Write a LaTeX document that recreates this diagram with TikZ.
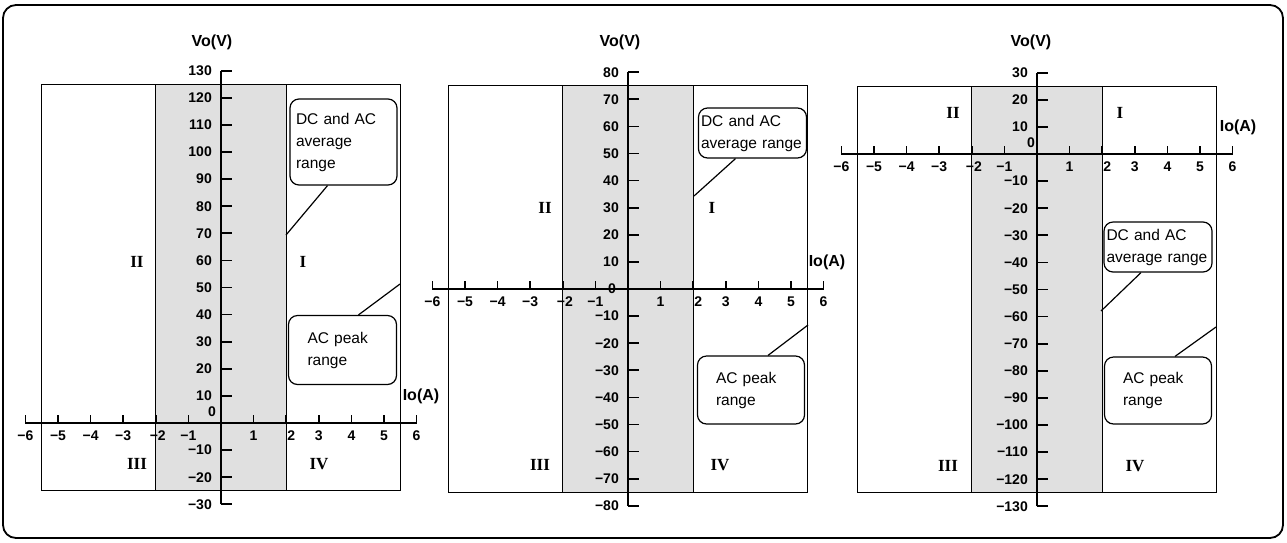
\documentclass[tikz,border=0pt]{standalone}
\usepackage{fontspec}
\setmainfont{Liberation Sans}
\newfontfamily\romanfont{Liberation Serif}
\newcommand\signed[1]{\ifnum#1<0 −\number\numexpr0-(#1)\relax\else#1\fi}
\tikzset{
  frameline/.style={draw, line width=1.8pt, rounded corners=13pt},
  axisline/.style={line width=1.7pt},
  boxline/.style={line width=1.1pt},
  band/.style={fill=black!12, draw=none},
  ticklab/.style={font=\fontsize{14}{15}\selectfont\bfseries, inner sep=0pt},
  axlab/.style={font=\fontsize{16}{17}\selectfont\bfseries, inner sep=0pt},
  quad/.style={font=\fontsize{17}{17}\selectfont\romanfont\bfseries, inner sep=0pt},
  callout/.style={draw, line width=1.2pt, rounded corners=9pt, fill=white,
    font=\fontsize{15.5}{22}\selectfont, align=left, inner sep=0pt},
  pointer/.style={line width=1.2pt}
}
\newcommand\mypanel[8]{%
\begin{scope}[shift={(#1,#2)}, x=32.6pt, y=2.71pt]
  \fill[band] (-2,#6) rectangle (2,#7);
  \draw[boxline] (-5.5,#6) rectangle (5.5,#7);
  \draw[boxline] (-2,#6) -- (-2,#7) (2,#6) -- (2,#7);
  \draw[axisline] (-6,0) -- (6,0);
  \draw[axisline] (0,#4) -- (0,#5);
  \foreach \u/\dx in {-6/0,-5/0,-4/0,-3/0,-2/2,-1/0,1/0,2/5,3/0,4/0,5/0,6/0}{
    \draw[axisline] (\u,0) -- ++(0,8pt);
    \node[ticklab] (x#8\u) at ([yshift=-13pt, xshift=\dx pt]\u,0) {\signed{\u}};
  }
  \foreach \v in {#3}{
    \draw[axisline] (0,\v) -- ++(11pt,0);
    \node[ticklab, anchor=east] (y#8\v) at ([xshift=-9pt]0,\v) {\signed{\v}};
  }
\end{scope}}
\begin{document}
\begin{tikzpicture}[x=1pt,y=-1pt]
\useasboundingbox (0,0) rectangle (1287,542);
\draw[frameline] (3,5) rectangle (1283,538);

% panels
\mypanel{221}{423}{-30,-20,-10,10,20,...,130}{-30}{130}{-25}{125}{a}
\mypanel{628}{289}{-80,-70,...,-10,10,20,...,80}{-80}{80}{-75}{75}{b}
\mypanel{1037}{154}{-130,-120,...,-10,10,20,30}{-130}{30}{-125}{25}{c}

% zero labels
\node[ticklab] (za) at (212,412) {0};
\node[ticklab] (zb) at (612,289) {0};
\node[ticklab] (zc) at (1031,143) {0};

% axis labels
\node[axlab] (vya) at (212,42) {Vo(V)};
\node[axlab] (vyb) at (620,42) {Vo(V)};
\node[axlab] (vyc) at (1031,42) {Vo(V)};
\node[axlab] (ixa) at (421,396) {Io(A)};
\node[axlab] (ixb) at (827,262) {Io(A)};
\node[axlab] (ixc) at (1238,127) {Io(A)};

% quadrant numerals
\node[quad] (q2a) at (137,262) {II};
\node[quad] (q1a) at (303,262) {I};
\node[quad] (q3a) at (137,464) {III};
\node[quad] (q4a) at (319,464) {IV};
\node[quad] (q2b) at (545,208) {II};
\node[quad] (q1b) at (712,208) {I};
\node[quad] (q3b) at (540,465) {III};
\node[quad] (q4b) at (720,465) {IV};
\node[quad] (q2c) at (953,113) {II};
\node[quad] (q1c) at (1120,113) {I};
\node[quad] (q3c) at (948,466) {III};
\node[quad] (q4c) at (1135,466) {IV};

% callouts
\node[callout, minimum width=107pt, minimum height=86pt, text width=95pt] (dca) at (343.5,142) {DC and AC\\average\\range};
\node[callout, minimum width=108pt, minimum height=69pt, text width=70pt] (aca) at (342.5,350) {AC peak\\range};
\node[callout, minimum width=108pt, minimum height=50pt, text width=103pt] (dcb) at (752.5,133) {DC and AC\\average range};
\node[callout, minimum width=107pt, minimum height=68pt, text width=70pt] (acb) at (751,390) {AC peak\\range};
\node[callout, minimum width=108pt, minimum height=50pt, text width=103pt] (dcc) at (1158,247) {DC and AC\\average range};
\node[callout, minimum width=107pt, minimum height=67pt, text width=70pt] (acc) at (1158,390.5) {AC peak\\range};

\coordinate (pdca) at (286,235);
\coordinate (paca) at (400,284);
\coordinate (pdcb) at (694,196);
\coordinate (pacb) at (808,325);
\coordinate (pdcc) at (1101,311);
\coordinate (pacc) at (1216,327);
\draw[pointer] ([xshift=-16pt]dca.south) -- (pdca);
\draw[pointer] ([xshift=16pt]aca.north) -- (paca);
\draw[pointer] ([xshift=-17pt]dcb.south) -- (pdcb);
\draw[pointer] ([xshift=17pt]acb.north) -- (pacb);
\draw[pointer] ([xshift=-17pt]dcc.south) -- (pdcc);
\draw[pointer] ([xshift=17pt]acc.north) -- (pacc);
\end{tikzpicture}
\end{document}
